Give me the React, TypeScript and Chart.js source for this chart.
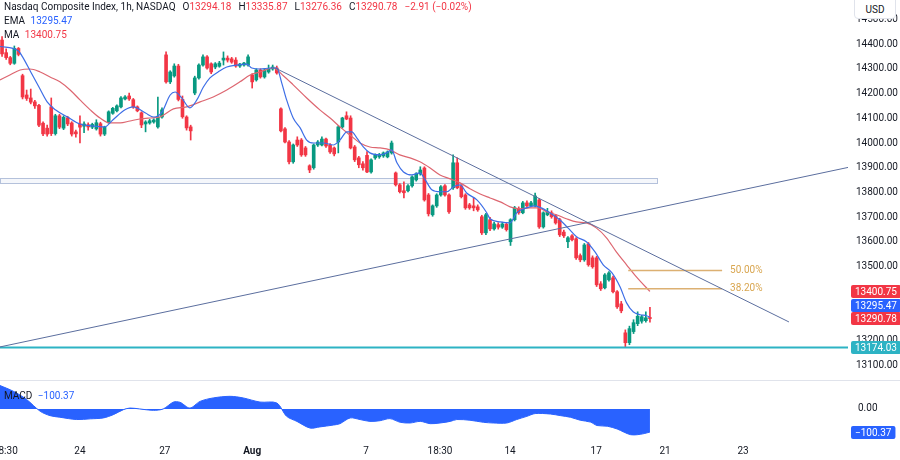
import React, { useEffect, useRef } from 'react';
import { Chart, registerables } from 'chart.js';

Chart.register(...registerables);

const FONT = "Roboto, 'Noto Sans', 'DejaVu Sans', sans-serif";
const UP = '#089981';
const DOWN = '#f23645';
const EMA_C = '#3d6ee6';
const MA_C = '#dd6670';
const TREND_C = '#5b6e9e';
const TEAL = '#2db3c4';
const FIB_C = '#dcb072';
const MACD_C = '#2962ff';

// ---- candles (1h bars, index 0 = first visible bar) ----
const opens = [14416,14365,14345,14322,14382,14272,14194,14182,14166,14152,14080,14060,14146,14038,14110,14060,14102,14081,14045,14077,14068,14074,14064,14057,14078,14036,14085,14120,14130,14146,14178,14190,14175,14146,14122,14077,14081,14085,14065,14105,14356,14247,14271,14311,14176,14105,14065,14202,14263,14315,14348,14320,14307,14310,14335,14343,14340,14335,14311,14315,14315,14275,14255,14295,14267,14287,14299,14303,14138,14057,14004,13924,14012,14012,13980,13908,13900,13992,13992,14016,13992,13980,14004,14065,14110,14101,13984,13940,13916,13950,13883,13940,13944,13948,13944,13960,13879,13831,13807,13807,13827,13851,13875,13899,13790,13710,13746,13790,13827,13790,13819,13920,13827,13790,13750,13746,13742,13702,13637,13690,13653,13670,13660,13672,13601,13690,13734,13718,13758,13746,13746,13770,13661,13710,13718,13706,13690,13640,13601,13625,13613,13545,13528,13592,13536,13536,13431,13415,13447,13455,13399,13350,13233,13193,13238,13270,13280,13282,13294.18];
const highs = [14430,14380,14350,14392,14386,14278,14214,14218,14172,14156,14086,14072,14182,14116,14116,14110,14108,14086,14052,14110,14086,14082,14080,14094,14084,14068,14130,14144,14154,14188,14192,14202,14180,14150,14126,14090,14096,14098,14186,14142,14368,14292,14320,14318,14190,14110,14072,14270,14320,14356,14353,14324,14325,14330,14368,14352,14346,14345,14322,14326,14356,14280,14300,14300,14300,14315,14315,14311,14142,14062,14010,13996,14025,14018,13986,13912,13996,14010,14025,14020,13998,13984,14070,14104,14126,14110,13990,13946,13925,13965,13936,13956,13958,13964,13968,14008,13883,13836,13843,13832,13867,13880,13904,13904,13796,13750,13795,13828,13832,13795,13952,13940,13832,13795,13756,13778,13750,13708,13716,13700,13680,13678,13680,13678,13694,13744,13742,13764,13766,13764,13798,13776,13722,13736,13726,13712,13696,13648,13622,13630,13618,13552,13594,13598,13544,13542,13440,13472,13480,13462,13404,13360,13245,13260,13286,13318,13304,13318,13335.87];
const lows = [14350,14338,14316,14318,14352,14178,14172,14158,14140,14066,14030,14028,14030,14032,14058,14054,14070,14028,14024,14000,14042,14052,14058,14052,14028,14030,14080,14116,14126,14142,14174,14172,14140,14126,14062,14045,14076,14080,14060,14100,14242,14240,14266,14170,14100,14052,14012,14195,14258,14310,14298,14280,14300,14306,14315,14327,14322,14306,14305,14310,14310,14222,14250,14262,14262,14282,14294,14278,14045,14000,13915,13918,13986,13946,13946,13880,13894,13986,13988,13982,13958,13948,13960,14060,14094,13976,13925,13900,13890,13880,13878,13934,13938,13942,13940,13955,13826,13798,13778,13802,13822,13846,13870,13765,13705,13704,13740,13785,13785,13715,13812,13815,13778,13732,13732,13726,13724,13630,13630,13646,13648,13652,13655,13644,13586,13685,13712,13714,13740,13742,13742,13655,13656,13706,13696,13672,13622,13618,13577,13604,13530,13520,13522,13502,13494,13420,13404,13410,13442,13394,13332,13314,13174,13185,13230,13262,13272,13276,13276.36];
const closes = [14360,14345,14322,14382,14358,14186,14180,14165,14150,14072,14037,14036,14038,14110,14064,14104,14077,14036,14037,14064,14077,14065,14075,14082,14036,14064,14126,14140,14150,14182,14186,14178,14146,14130,14073,14085,14090,14093,14105,14134,14247,14287,14311,14176,14106,14061,14049,14263,14315,14348,14303,14287,14320,14323,14343,14335,14327,14311,14319,14323,14348,14247,14295,14267,14295,14299,14307,14283,14049,14004,13924,13992,13992,13952,13952,13891,13992,14004,14016,13988,13964,13956,14065,14101,14097,13980,13932,13912,13900,13883,13932,13952,13952,13960,13964,14000,13831,13803,13799,13827,13863,13875,13891,13770,13714,13746,13790,13823,13790,13722,13920,13819,13783,13738,13738,13738,13730,13637,13710,13653,13673,13660,13673,13650,13690,13738,13718,13758,13746,13758,13786,13661,13718,13722,13702,13677,13629,13625,13617,13609,13536,13528,13588,13508,13500,13427,13411,13467,13475,13399,13338,13322,13193,13250,13274,13300,13298,13293.69,13290.78];

// ---- EMA ----
const emaIdx = [-0.5,4,5,7,9,11,13,16,19,22,25,27,30,32,35,37,39,41,42.2,43.8,45.8,47.5,49.1,50.7,52.7,54.8,57.2,59.7,60.9,62.9,65.4,67,68.2,69.4,71,72.7,74.3,76,78.4,80.8,82.4,84.1,85.3,86.5,88.1,89.7,92.2,93.8,95,96.3,97.9,99.9,101.9,103.2,104.8,106.8,108.5,110.1,111.7,113.3,115.8,118.2,119,121.5,123.9,125.5,127.9,129.9,131.5,133.6,136,138,140.1,142.5,144.6,146.6,148.7,150.7,152.3,153.9,155.6,157.2,158];
const emaVal = [14390,14372,14348,14287,14226,14166,14134,14105,14077,14069,14065,14093,14134,14146,14121,14105,14125,14194,14206,14182,14142,14174,14226,14263,14287,14307,14315,14319,14303,14299,14303,14303,14243,14174,14101,14061,14012,14000,14000,13992,14012,14045,14045,14021,13984,13960,13952,13960,13972,13920,13883,13871,13879,13851,13811,13803,13803,13823,13831,13798,13770,13718,13694,13681,13677,13718,13738,13746,13738,13718,13690,13657,13621,13601,13560,13508,13476,13419,13354,13318,13306,13302,13295.47];

// ---- MA ----
const maIdx = [-0.5,1.9,4.4,6.8,9.3,11.7,14.1,16.6,19,21.5,23.9,26.3,28.8,31.2,33.6,36.1,38.5,41.8,45,48.3,51.5,54.8,58,60.5,62.9,66.1,68.6,71,74.3,77.5,80,82.4,84.8,87.3,89.7,92.2,94.6,97,99.5,101.9,104.4,106.8,109.3,111.7,114.1,116.6,119,121.5,123.9,126.3,128.7,130.8,132.8,135.2,137.6,140.1,142.5,144.9,147.4,149.8,152.3,154.7,157.2,158];
const maVal = [14255,14275,14295,14299,14287,14267,14247,14214,14174,14134,14101,14081,14081,14089,14097,14101,14105,14138,14146,14166,14186,14214,14247,14275,14287,14303,14272,14235,14182,14134,14101,14065,14033,14000,13984,13980,13972,13952,13940,13924,13899,13871,13855,13839,13815,13794,13778,13762,13742,13734,13738,13738,13722,13710,13694,13681,13677,13657,13617,13560,13508,13459,13414,13400.75];

// ---- MACD ----
const macdIdx = [-0.5,2.75,6,9.3,11.7,14.1,18.2,21.5,24.7,27.1,29.6,31.2,33.6,36.9,39.3,41.8,43.4,45.8,48.3,51.5,55.6,58.8,62.9,67,69.4,71.9,75.1,77.5,80.8,82.4,84.9,87.3,89.7,92.2,94.6,97.1,99.5,102,104.4,106.8,109.3,110.9,114.1,117.4,119.8,123.1,125.5,128,130,133.7,136.2,138.6,141,143.5,145.1,147.6,150,151.7,153.3,154.9,156.6,158];
const macdVal = [102,77,41,-10,-29,-36,-46,-43,-39,-25,-3,4,0,-6,0,30,29,4,33,48,55,48,30,26,-32,-54,-83,-78,-70,-64,-39,-46,-54,-51,-42,-58,-61,-54,-64,-61,-54,-46,-49,-58,-61,-61,-46,-32,-20,-22,-29,-36,-49,-57,-72,-75,-87,-101,-112,-112,-107,-100.37];

// ---- axes ----
const xTickIdx = [0.8, 19, 39.7, 61, 88.8, 106.8, 123.9, 144.9, 161.7, 180.7];
const xTickLabels = ['18:30', '24', '27', 'Aug', '7', '18:30', '14', '17', '21', '23'];
const priceTicks = [13100, 13200, 13300, 13400, 13500, 13600, 13700, 13800, 13900, 14000, 14100, 14200, 14300, 14400, 14500];
const macdTicks = [0];

// ---- drawings ----
const supportLevel = 13174.03;
const zoneLow = 13838;
const zoneHigh = 13858;
const zoneFrom = -0.5;
const zoneTo = 159.7;
const downTrendIdx = [66.6, 191.9];
const downTrendVal = [14303, 13277];
const upTrendIdx = [-0.5, 206.8];
const upTrendVal = [13176, 13903];
const fibLabels = ['50.00%', '38.20%'];
const fibValues = [13485, 13411];
const fibFrom = 152.7;
const fibTo = 175.6;

const last = closes.length - 1;
const lastEma = emaVal[emaVal.length - 1];
const lastMa = maVal[maVal.length - 1];
const lastMacd = macdVal[macdVal.length - 1];

const pts = (xs: number[], ys: number[]) => xs.map((x, k) => ({ x, y: ys[k] }));

function roundRectPath(ctx: CanvasRenderingContext2D, x: number, y: number, w: number, h: number, r: number) {
  ctx.beginPath();
  ctx.moveTo(x + r, y);
  ctx.lineTo(x + w - r, y);
  ctx.quadraticCurveTo(x + w, y, x + w, y + r);
  ctx.lineTo(x + w, y + h - r);
  ctx.quadraticCurveTo(x + w, y + h, x + w - r, y + h);
  ctx.lineTo(x + r, y + h);
  ctx.quadraticCurveTo(x, y + h, x, y + h - r);
  ctx.lineTo(x, y + r);
  ctx.quadraticCurveTo(x, y, x + r, y);
  ctx.closePath();
}

function drawTag(ctx: CanvasRenderingContext2D, yPix: number, text: string, color: string) {
  ctx.font = `10px ${FONT}`;
  const w = ctx.measureText(text).width + 8;
  const h = 13;
  const left = 851;
  ctx.fillStyle = color;
  roundRectPath(ctx, left, Math.round(yPix - h / 2), w, h, 2);
  ctx.fill();
  ctx.fillStyle = '#ffffff';
  ctx.textAlign = 'left';
  ctx.textBaseline = 'middle';
  ctx.fillText(text, left + 4, Math.round(yPix - h / 2) + h / 2 + 0.5);
}

const overlayPlugin = {
  id: 'overlay',
  beforeDatasetsDraw(chart: any) {
    const { ctx, scales } = chart;
    const x = scales.x, y = scales.y;
    const x0 = x.getPixelForValue(zoneFrom), x1 = x.getPixelForValue(zoneTo);
    const yt = y.getPixelForValue(zoneHigh), yb = y.getPixelForValue(zoneLow);
    ctx.save();
    ctx.fillStyle = 'rgba(200,210,232,0.18)';
    ctx.fillRect(x0, yt, x1 - x0, yb - yt);
    ctx.strokeStyle = '#b4c1db';
    ctx.lineWidth = 1;
    ctx.strokeRect(Math.round(x0) + 0.5, Math.round(yt) + 0.5, Math.round(x1 - x0), Math.round(yb - yt));
    ctx.restore();
  },
  afterDatasetsDraw(chart: any) {
    const { ctx, scales } = chart;
    ctx.save();
    ctx.font = `10px ${FONT}`;
    ctx.fillStyle = '#d9a650';
    ctx.textAlign = 'left';
    ctx.textBaseline = 'middle';
    fibValues.forEach((v, k) => {
      ctx.fillText(fibLabels[k], scales.x.getPixelForValue(fibTo) + 8, scales.y.getPixelForValue(v));
    });
    ctx.restore();
  },
  afterDraw(chart: any) {
    const { ctx, scales } = chart;
    const y = scales.y, y2 = scales.y2;
    ctx.save();
    // pane separator
    ctx.strokeStyle = '#e0e3eb';
    ctx.lineWidth = 1;
    ctx.beginPath();
    const sy = Math.round(y2.top) + 0.5;
    ctx.moveTo(0, sy);
    ctx.lineTo(chart.width, sy);
    ctx.stroke();
    // price tags, stacked so they do not overlap
    const tags = [
      { v: lastMa, c: DOWN },
      { v: lastEma, c: MACD_C },
      { v: closes[last], c: closes[last] >= opens[last] ? UP : DOWN },
    ];
    const pos = tags.map(t => y.getPixelForValue(t.v));
    for (let k = pos.length - 2; k >= 0; k--) pos[k] = Math.min(pos[k], pos[k + 1] - 13.5);
    tags.forEach((t, k) => drawTag(ctx, pos[k], t.v.toFixed(2), t.c));
    drawTag(ctx, y.getPixelForValue(supportLevel), supportLevel.toFixed(2), TEAL);
    drawTag(ctx, y2.getPixelForValue(lastMacd), lastMacd.toFixed(2).replace('-', '\u2212'), MACD_C);
    ctx.restore();
  },
};

export default function App() {
  const ref = useRef<HTMLCanvasElement>(null);

  useEffect(() => {
    document.body.style.margin = '0';
    Chart.defaults.font.family = FONT;
    Chart.defaults.font.size = 10;
    Chart.defaults.color = '#131722';

    const bodies = opens.map((o, i) => ({ x: i, y: [o, closes[i]] }));
    const wicks = opens.map((_, i) => ({ x: i, y: [lows[i], highs[i]] }));
    const colors = opens.map((o, i) => (closes[i] >= o ? UP : DOWN));

    const lineBase = { type: 'line' as const, pointRadius: 0, borderWidth: 1, tension: 0, yAxisID: 'y', fill: false };

    const chart = new Chart(ref.current as HTMLCanvasElement, {
      type: 'bar',
      data: {
        datasets: [
          { ...lineBase, data: pts(downTrendIdx, downTrendVal), borderColor: TREND_C, order: -2 },
          { ...lineBase, data: pts(upTrendIdx, upTrendVal), borderColor: TREND_C, order: -2 },
          { ...lineBase, data: pts([-0.5, 206.8], [supportLevel, supportLevel]), borderColor: TEAL, borderWidth: 2, order: -2 },
          { ...lineBase, data: pts([fibFrom, fibTo], [fibValues[0], fibValues[0]]), borderColor: FIB_C, borderWidth: 1.5, order: -2 },
          { ...lineBase, data: pts([fibFrom, fibTo], [fibValues[1], fibValues[1]]), borderColor: FIB_C, borderWidth: 1.5, order: -2 },
          { ...lineBase, data: pts(emaIdx, emaVal), borderColor: EMA_C, borderWidth: 1.2, tension: 0.4, cubicInterpolationMode: 'monotone', order: -1 },
          { ...lineBase, data: pts(maIdx, maVal), borderColor: MA_C, borderWidth: 1.2, tension: 0.4, cubicInterpolationMode: 'monotone', order: -1 },
          { type: 'bar', data: bodies as any, backgroundColor: colors, borderWidth: 0, barThickness: 3, minBarLength: 1, grouped: false, order: 2, yAxisID: 'y' },
          { type: 'bar', data: wicks as any, backgroundColor: colors, borderWidth: 0, barThickness: 1, minBarLength: 1, grouped: false, order: 3, yAxisID: 'y' },
          { type: 'line', data: pts(macdIdx, macdVal), yAxisID: 'y2', borderColor: MACD_C, backgroundColor: MACD_C, borderWidth: 1, pointRadius: 0, tension: 0.3, fill: 'origin', order: 0 },
        ] as any,
      },
      options: {
        responsive: false,
        animation: false,
        devicePixelRatio: 1,
        events: [],
        layout: { padding: 0, autoPadding: false },
        plugins: { legend: { display: false }, tooltip: { enabled: false } },
        scales: {
          x: {
            type: 'linear',
            min: -0.5,
            max: 206.3,
            offset: false,
            grid: { display: false, drawTicks: false },
            border: { display: false },
            afterBuildTicks: (s: any) => { s.ticks = xTickIdx.map(v => ({ value: v })); },
            afterFit: (s: any) => { s.paddingLeft = 0; s.paddingRight = 0; s.height = 20; },
            ticks: {
              autoSkip: false,
              maxRotation: 0,
              padding: 5,
              color: '#131722',
              font: (c: any) => ({ size: 10, family: FONT, weight: xTickLabels[c.index] === 'Aug' ? 'bold' : 'normal' }),
              callback: (_v: any, idx: number) => xTickLabels[idx],
            },
          },
          y: {
            type: 'linear',
            position: 'right',
            stack: 'pane',
            stackWeight: 380,
            min: 13042.4,
            max: 14577.8,
            grid: { display: false, drawTicks: false },
            border: { display: false },
            afterBuildTicks: (s: any) => { s.ticks = priceTicks.map(v => ({ value: v })); },
            afterFit: (s: any) => { s.width = 52; s.paddingTop = 0; s.paddingBottom = 0; },
            ticks: { autoSkip: false, padding: 8, color: '#131722', callback: (v: any) => Number(v).toFixed(2) },
          },
          y2: {
            type: 'linear',
            position: 'right',
            stack: 'pane',
            stackWeight: 60,
            min: -135,
            max: 126,
            grid: { display: false, drawTicks: false },
            border: { display: false },
            afterBuildTicks: (s: any) => { s.ticks = macdTicks.map(v => ({ value: v })); },
            afterFit: (s: any) => { s.width = 52; s.paddingTop = 0; s.paddingBottom = 0; },
            ticks: { autoSkip: false, padding: 10, color: '#131722', callback: (v: any) => Number(v).toFixed(2) },
          },
        },
      } as any,
      plugins: [overlayPlugin],
    });
    return () => chart.destroy();
  }, []);

  const chg = closes[last] - closes[last - 1];
  const pct = (chg / closes[last - 1]) * 100;
  const fmt = (n: number) => (n < 0 ? '\u2212' : '+') + Math.abs(n).toFixed(2);
  const red = { color: DOWN };
  const gap = { marginLeft: 7 };

  return (
    <div style={{ position: 'fixed', left: 0, top: 0, width: 900, height: 460, background: '#ffffff', fontFamily: FONT, overflow: 'hidden' }}>
      <canvas ref={ref} width={900} height={460} style={{ display: 'block', width: 900, height: 460 }} />
      <div style={{ position: 'absolute', left: 4, top: 0, fontSize: 10, lineHeight: '14px', color: '#131722', whiteSpace: 'nowrap' }}>
        <div>
          Nasdaq Composite Index, 1h, NASDAQ
          <span style={gap}>O</span><span style={red}>{opens[last].toFixed(2)}</span>
          <span style={gap}>H</span><span style={red}>{highs[last].toFixed(2)}</span>
          <span style={gap}>L</span><span style={red}>{lows[last].toFixed(2)}</span>
          <span style={gap}>C</span><span style={red}>{closes[last].toFixed(2)}</span>
          <span style={{ ...gap, ...red }}>{fmt(chg)} ({fmt(pct)}%)</span>
        </div>
        <div>EMA <span style={{ color: MACD_C, marginLeft: 3 }}>{lastEma.toFixed(2)}</span></div>
        <div>MA <span style={{ color: DOWN, marginLeft: 3 }}>{lastMa.toFixed(2)}</span></div>
      </div>
      <div style={{ position: 'absolute', left: 4, top: 389, fontSize: 10, lineHeight: '14px', color: '#131722', whiteSpace: 'nowrap' }}>
        MACD <span style={{ color: MACD_C, marginLeft: 3 }}>{fmt(lastMacd)}</span>
      </div>
      <div style={{ position: 'absolute', left: 854, top: -1, width: 42, height: 20, boxSizing: 'border-box', border: '1px solid #e0e3eb', borderRadius: '0 0 4px 4px', background: '#ffffff', fontSize: 10, lineHeight: '19px', textAlign: 'center', color: '#131722' }}>
        USD
      </div>
    </div>
  );
}
